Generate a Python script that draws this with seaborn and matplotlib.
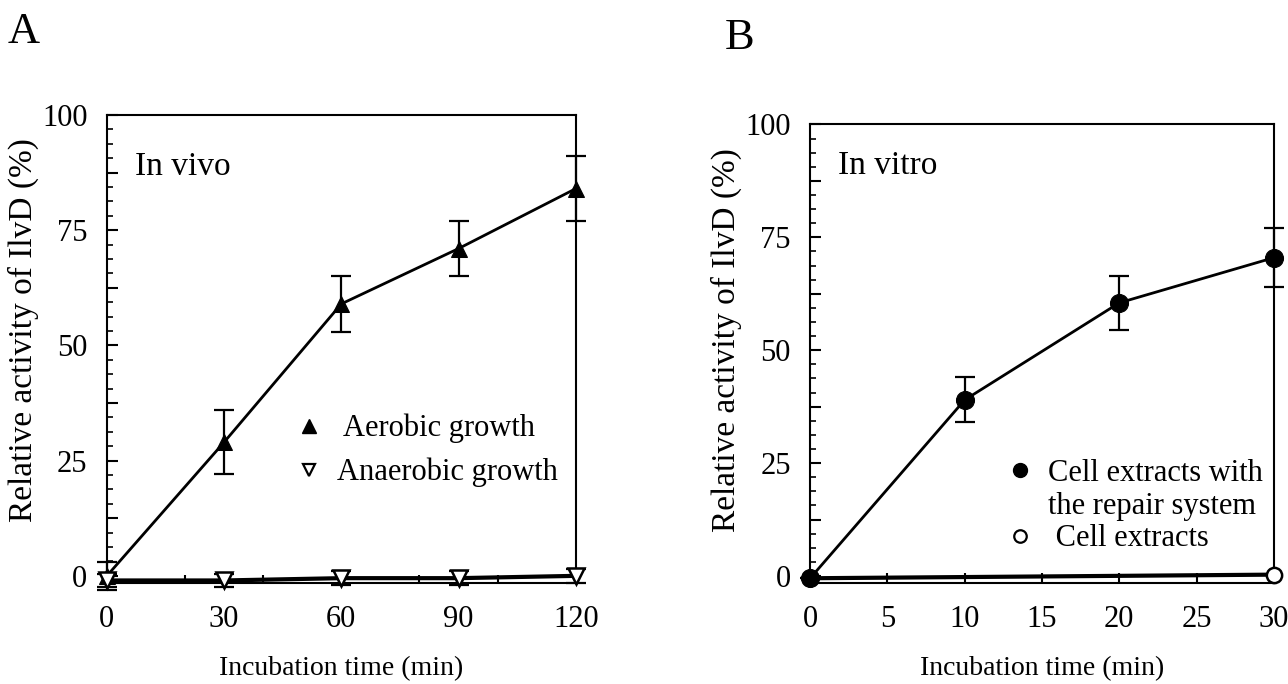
import numpy as np
import seaborn as sns
import matplotlib.pyplot as plt
from matplotlib.lines import Line2D
from matplotlib.ticker import MultipleLocator

# Panel A data (in vivo)
time_a = [0, 30, 60, 90, 120]
aerobic = [0, 29, 59, 71, 84]
aerobic_err = [3, 7, 6, 6, 7]
anaerobic = [-1, -1, -0.5, -0.5, 0]
anaerobic_err = [1.5, 1.5, 1.5, 1.5, 1.5]
xticks_a = [0, 30, 60, 90, 120]
xminor_a = [20, 40, 60, 80, 100]

# Panel B data (in vitro)
time_b_repair = [0, 10, 20, 30]
repair = [-0.5, 39, 60.5, 70.5]
repair_err = [0, 5, 6, 6.5]
time_b_cell = [0, 30]
cell = [-0.5, 0.3]
xticks_b = [0, 5, 10, 15, 20, 25, 30]

yticks = np.arange(0, 100.1, 12.5)
ylabels = ["0", "", "25", "", "50", "", "75", "", "100"]

sns.set_theme(style="ticks")
plt.rcParams["font.family"] = ["Liberation Serif", "DejaVu Serif"]
for key in ["text.color", "axes.labelcolor", "xtick.color", "ytick.color"]:
    plt.rcParams[key] = "black"

fig = plt.figure(figsize=(12.88, 6.84), dpi=100)
ax_a = fig.add_axes([0.083, 0.148, 0.364, 0.684])
ax_b = fig.add_axes([0.629, 0.148, 0.360, 0.670])

TICK_FS = 22
LEG_FS = 22


def style_axes(ax, ylab_x, ylab_y):
    for s in ax.spines.values():
        s.set_linewidth(1.5)
        s.set_color("black")
        s.set_zorder(2.5)
    ax.set_yticks(yticks)
    ax.set_yticklabels(ylabels)
    ax.yaxis.set_minor_locator(MultipleLocator(3.125))
    ax.tick_params(axis="y", which="major", direction="in", length=8, width=1.5,
                   labelsize=TICK_FS, pad=14)
    ax.tick_params(axis="y", which="minor", direction="in", length=4, width=1.2)
    ax.set_ylabel("Relative activity of IlvD (%)", fontsize=24)
    ax.yaxis.set_label_coords(ylab_x, ylab_y)
    ax.set_xlabel("Incubation time (min)", fontsize=20, labelpad=16)
    ax.set_ylim(-1.5, 100)


# ---- Panel A ----
ax_a.errorbar(time_a, aerobic, yerr=aerobic_err, fmt="none", ecolor="black",
              elinewidth=1.6, capsize=7, capthick=1.6, clip_on=False, zorder=2)
ax_a.errorbar(time_a, anaerobic, yerr=anaerobic_err, fmt="none", ecolor="black",
              elinewidth=1.6, capsize=7, capthick=1.6, clip_on=False, zorder=2)
sns.lineplot(x=time_a, y=aerobic, ax=ax_a, color="black", linewidth=2,
             marker="^", markersize=12, markeredgecolor="black", clip_on=False,
             zorder=3)
sns.lineplot(x=time_a, y=anaerobic, ax=ax_a, color="black", linewidth=3,
             marker="v", markersize=12, markerfacecolor="white",
             markeredgecolor="black", markeredgewidth=1.8, clip_on=False,
             zorder=4)
ax_a.set_xlim(0, 120)
ax_a.set_xticks(xticks_a)
ax_a.set_xticks(xminor_a, minor=True)
ax_a.tick_params(axis="x", which="major", length=0, labelsize=TICK_FS, pad=16)
ax_a.tick_params(axis="x", which="minor", direction="in", length=6, width=1.5)
style_axes(ax_a, -0.145, 0.54)
ax_a.text(0.06, 0.89, "In vivo", transform=ax_a.transAxes, fontsize=24,
          va="center", ha="left")

handles_a = [
    Line2D([], [], ls="none", marker="^", color="black", markersize=10),
    Line2D([], [], ls="none", marker="v", markerfacecolor="white",
           markeredgecolor="black", markeredgewidth=1.6, markersize=9),
]
ax_a.legend(handles_a, [" Aerobic growth", "Anaerobic growth"], frameon=False,
            loc="upper left", bbox_to_anchor=(0.379, 0.387), fontsize=LEG_FS,
            handlelength=0.8, handletextpad=0.5, labelspacing=0.47,
            borderaxespad=0)

# ---- Panel B ----
sns.lineplot(x=time_b_cell, y=cell, ax=ax_b, color="black", linewidth=3,
             marker="o", markersize=11, markerfacecolor="white",
             markeredgecolor="black", markeredgewidth=1.8, clip_on=False,
             zorder=3)
ax_b.errorbar(time_b_repair, repair, yerr=repair_err, fmt="none", ecolor="black",
              elinewidth=1.6, capsize=7, capthick=1.6, clip_on=False, zorder=2)
sns.lineplot(x=time_b_repair, y=repair, ax=ax_b, color="black", linewidth=2,
             marker="o", markersize=13, markeredgecolor="black", clip_on=False,
             zorder=4)
ax_b.set_xlim(0, 30)
ax_b.set_xticks(xticks_b)
ax_b.tick_params(axis="x", which="major", direction="in", length=7, width=1.5,
                 labelsize=TICK_FS, pad=16)
style_axes(ax_b, -0.147, 0.53)
ax_b.text(0.06, 0.91, "In vitro", transform=ax_b.transAxes, fontsize=24,
          va="center", ha="left")

handles_b = [
    Line2D([], [], ls="none", marker="o", color="black", markersize=10),
    Line2D([], [], ls="none"),
    Line2D([], [], ls="none", marker="o", markerfacecolor="white",
           markeredgecolor="black", markeredgewidth=1.6, markersize=9),
]
ax_b.legend(handles_b, ["Cell extracts with", "the repair system", " Cell extracts"],
            frameon=False, loc="upper left", bbox_to_anchor=(0.40, 0.297),
            fontsize=LEG_FS, handlelength=0.8, handletextpad=0.5,
            labelspacing=0.12, borderaxespad=0)

fig.text(8 / 1288, 1 - 32 / 684, "A", fontsize=32, ha="left", va="center")
fig.text(725 / 1288, 1 - 38 / 684, "B", fontsize=32, ha="left", va="center")

plt.savefig("out.png", dpi=100)
